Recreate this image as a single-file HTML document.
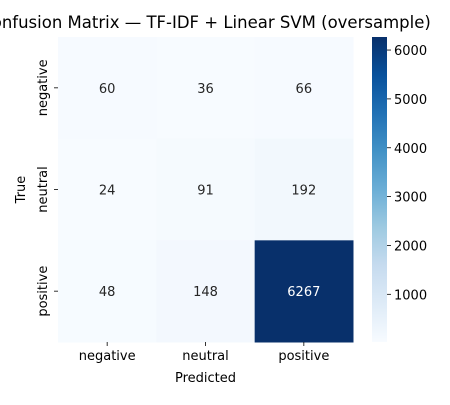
<!DOCTYPE html>
<html><head><meta charset="utf-8"><style>
body{margin:0;background:#fff}
svg text{font-family:"DejaVu Sans","Liberation Sans",sans-serif;fill:#000}
</style></head><body>
<svg id="c" width="450" height="400" xmlns="http://www.w3.org/2000/svg">
<defs><linearGradient id="g" x1="0" y1="1" x2="0" y2="0">
<stop offset="0" stop-color="#f7fbff"/><stop offset="0.125" stop-color="#deebf7"/><stop offset="0.25" stop-color="#c6dbef"/><stop offset="0.375" stop-color="#9ecae1"/><stop offset="0.5" stop-color="#6baed6"/><stop offset="0.625" stop-color="#4292c6"/><stop offset="0.75" stop-color="#2171b5"/><stop offset="0.875" stop-color="#08519c"/><stop offset="1" stop-color="#08306b"/>
</linearGradient></defs>
<text x="205.5" y="28" font-size="16.5" text-anchor="middle">Confusion Matrix — TF-IDF + Linear SVM (oversample)</text>
<text x="205.5" y="382" font-size="13" text-anchor="middle">Predicted</text>
<text x="25" y="189.5" font-size="13" text-anchor="middle" transform="rotate(-90 25 189.5)">True</text>
<rect x="372" y="37" width="15" height="305" fill="url(#g)"/>
</svg>
<script>
const labels=["negative","neutral","positive"];
const values=[[60,36,66],[24,91,192],[48,148,6267]];
const cbTicks=[1000,2000,3000,4000,5000,6000];
const vmin=24, vmax=6267;
const X0=58,X1=353,Y0=37,Y1=342;
const cw=(X1-X0)/3, ch=(Y1-Y0)/3;
const stops=["#f7fbff","#deebf7","#c6dbef","#9ecae1","#6baed6","#4292c6","#2171b5","#08519c","#08306b"].map(h=>[1,3,5].map(i=>parseInt(h.substr(i,2),16)));
function color(v){let t=Math.max(0,Math.min(1,(v-vmin)/(vmax-vmin)))*8;let i=Math.min(7,Math.floor(t)),f=t-i;
const c=stops[i].map((a,k)=>Math.round(a+(stops[i+1][k]-a)*f));return [`rgb(${c})`,(c[0]*0.299+c[1]*0.587+c[2]*0.114)<128];}
const svg=document.getElementById('c');const NS="http://www.w3.org/2000/svg";
function mk(t,a,txt){const e=document.createElementNS(NS,t);for(const k in a)e.setAttribute(k,a[k]);if(txt!=null)e.textContent=txt;svg.appendChild(e);return e;}
function cbY(v){return Y1-(v-vmin)/(vmax-vmin)*(Y1-Y0);}
values.forEach((row,r)=>row.forEach((v,c)=>{
 const [col,dark]=color(v);
 const rc=mk('rect',{x:X0+c*cw,y:Y0+r*ch,width:cw+0.5,height:ch+0.5,fill:col});
 
 
 const t=mk('text',{x:X0+(c+0.5)*cw,y:Y0+(r+0.5)*ch+5,'font-size':13,'text-anchor':'middle',style:'fill:'+(dark?'#fff':'#262626')},v);
 
 
}));
labels.forEach((l,i)=>{
 const x=X0+(i+0.5)*cw;
 mk('line',{x1:x,x2:x,y1:Y1,y2:Y1+4,stroke:'#000','stroke-width':0.8});
 const t=mk('text',{x:x,y:Y1+18,'font-size':13,'text-anchor':'middle'},l);
 
 
 const y=Y0+(i+0.5)*ch;
 mk('line',{x1:X0-4,x2:X0,y1:y,y2:y,stroke:'#000','stroke-width':0.8});
 const ty=mk('text',{x:47,y:y,'font-size':13,'text-anchor':'middle',transform:`rotate(-90 47 ${y})`},l);
 
 
});
cbTicks.forEach(v=>{
 const y=cbY(v);
 mk('line',{x1:387,x2:391,y1:y,y2:y,stroke:'#000','stroke-width':0.8});
 const t=mk('text',{x:394,y:y+5,'font-size':13},v);
 
 
});
</script>
</body></html>
